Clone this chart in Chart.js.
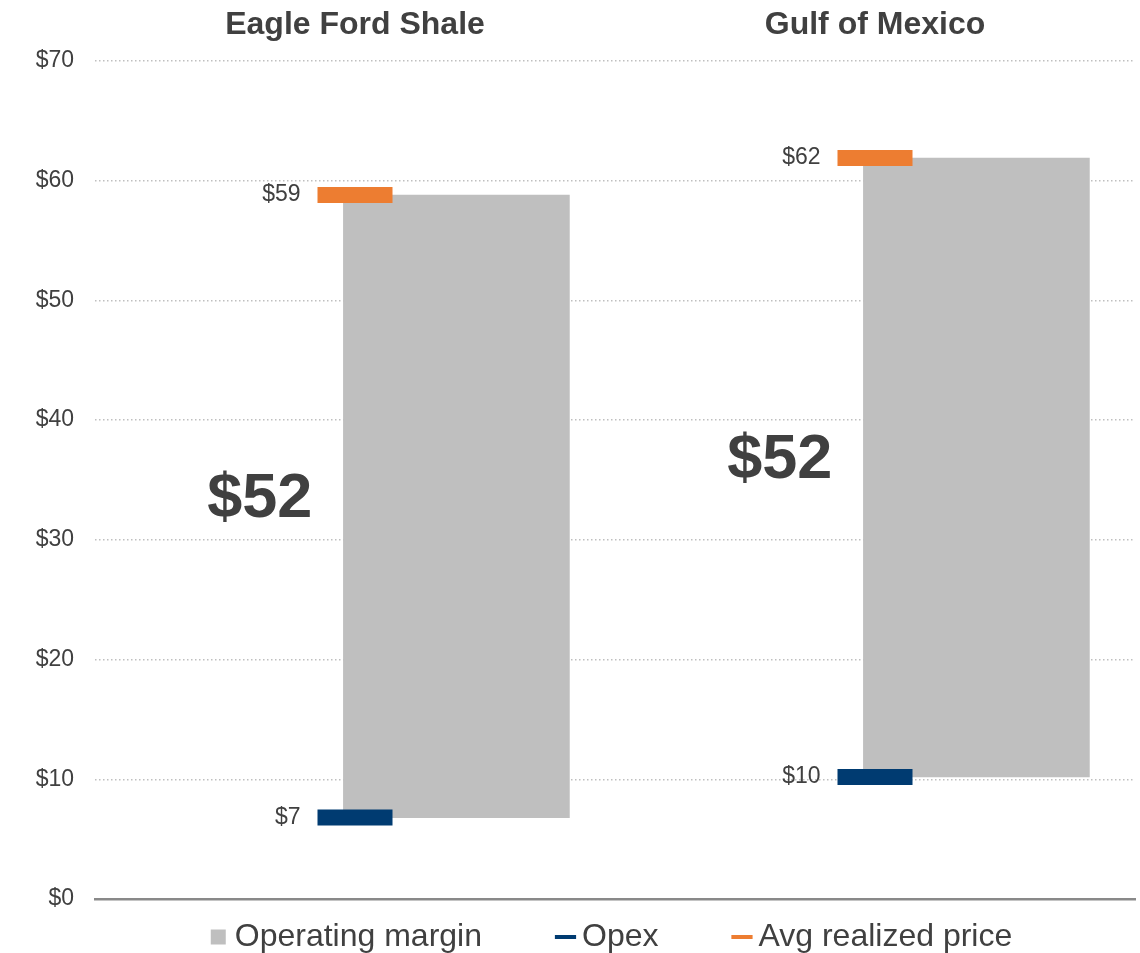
<!DOCTYPE html>
<html>
<head>
<meta charset="utf-8">
<title>Operating margin</title>
<script src="https://cdn.jsdelivr.net/npm/chart.js@4.4.1/dist/chart.umd.min.js"></script>
<style>
  html, body { margin: 0; padding: 0; background: #fff; }
  #wrap { width: 1140px; height: 953px; }
</style>
</head>
<body>
<div id="wrap"><canvas id="marginChart" width="1140" height="953"></canvas></div>
<script>
// data
const categories = ['Eagle Ford Shale', 'Gulf of Mexico'];
const opex = [6.8, 10.2];
const avgPrice = [58.8, 61.9];
const yTicks = [0, 10, 20, 30, 40, 50, 60, 70];

const GREY = '#bfbfbf';
const NAVY = '#003b71';
const ORANGE = '#ed7d31';
const TEXT = '#404040';
const FONT = '"Liberation Sans", Arial, sans-serif';

Chart.defaults.font.family = FONT;
Chart.defaults.color = TEXT;

// grey bar sits to the right of the price / opex markers
const BAR_SHIFT = 0.195;

// labels next to markers + big margin figure
const valueLabels = {
  id: 'valueLabels',
  afterDatasetsDraw(chart) {
    const ctx = chart.ctx;
    const bars = chart.getDatasetMeta(0).data;
    const opexPts = chart.getDatasetMeta(1).data;
    const pricePts = chart.getDatasetMeta(2).data;
    ctx.save();
    ctx.fillStyle = TEXT;
    ctx.textAlign = 'right';
    ctx.textBaseline = 'middle';
    categories.forEach((c, i) => {
      const half = opexPts[i].options.radius;
      ctx.font = '23px ' + FONT;
      ctx.fillText('$' + Math.round(opex[i]), opexPts[i].x - half - 17, opexPts[i].y);
      ctx.fillText('$' + Math.round(avgPrice[i]), pricePts[i].x - half - 17, pricePts[i].y);

      const bar = bars[i];
      ctx.font = 'bold 63px ' + FONT;
      ctx.fillText('$' + Math.round(avgPrice[i] - opex[i]), bar.x - bar.width / 2 - 31, (bar.y + bar.base) / 2 - 7);
    });
    ctx.restore();
  }
};

const ctx = document.getElementById('marginChart').getContext('2d');

new Chart(ctx, {
  type: 'bar',
  data: {
    datasets: [
      {
        label: 'Operating margin',
        data: categories.map((c, i) => ({ x: i + 0.5 + BAR_SHIFT, y: [opex[i], avgPrice[i]] })),
        backgroundColor: GREY,
        borderWidth: 0,
        barThickness: 226,
        pointStyle: 'rect',
        order: 3
      },
      {
        type: 'line',
        label: 'Opex',
        data: categories.map((c, i) => ({ x: i + 0.5, y: opex[i] })),
        showLine: false,
        pointStyle: 'line',
        pointRadius: 37.5,
        pointHoverRadius: 37.5,
        pointBorderWidth: 16,
        pointHoverBorderWidth: 16,
        borderColor: NAVY,
        backgroundColor: NAVY,
        order: 1
      },
      {
        type: 'line',
        label: 'Avg realized price',
        data: categories.map((c, i) => ({ x: i + 0.5, y: avgPrice[i] })),
        showLine: false,
        pointStyle: 'line',
        pointRadius: 37.5,
        pointHoverRadius: 37.5,
        pointBorderWidth: 16,
        pointHoverBorderWidth: 16,
        borderColor: ORANGE,
        backgroundColor: ORANGE,
        order: 2
      }
    ]
  },
  options: {
    responsive: false,
    animation: false,
    layout: {
      autoPadding: false, // big marker radius would otherwise shrink the plot
      padding: { top: 0, left: 0, right: 5, bottom: -10 }
    },
    scales: {
      x: {
        type: 'linear',
        min: 0,
        max: categories.length,
        offset: false,
        ticks: { display: false },
        grid: { display: false, drawTicks: false },
        border: { display: true, color: '#898989', width: 2.5 },
        afterFit: s => { s.height = 0; }
      },
      x2: {
        type: 'category',
        position: 'top',
        labels: categories,
        offset: true,
        grid: { display: false, drawTicks: false },
        border: { display: false },
        ticks: { padding: 17, color: TEXT, font: { size: 32, weight: 'bold' } },
        afterFit: s => { s.height = 61; s.paddingLeft = 0; s.paddingRight = 0; }
      },
      y: {
        min: yTicks[0],
        max: yTicks[yTicks.length - 1],
        afterBuildTicks: s => { s.ticks = yTicks.map(v => ({ value: v })); },
        ticks: {
          padding: 21,
          color: TEXT,
          font: { size: 23 },
          callback: v => '$' + v
        },
        grid: {
          drawTicks: false,
          lineWidth: 1.5,
          color: c => (c.tick && c.tick.value === 0) ? 'rgba(0,0,0,0)' : GREY
        },
        border: { display: false, dash: [1.5, 2.5] },
        afterFit: s => { s.width = 95; }
      }
    },
    plugins: {
      tooltip: { enabled: false },
      legend: {
        position: 'bottom',
        fullSize: false,
        // empty title with negative padding pulls the legend row up
        title: { display: true, text: '', padding: { top: -71, bottom: 0 }, font: { size: 10, lineHeight: 1 } },
        labels: {
          usePointStyle: true,
          boxWidth: 1,
          boxHeight: 15,
          padding: 83,
          color: TEXT,
          font: { size: 32 },
          sort: (a, b) => a.datasetIndex - b.datasetIndex,
          generateLabels: chart => {
            const items = Chart.defaults.plugins.legend.labels.generateLabels(chart);
            items.forEach(it => { if (it.pointStyle === 'line') it.lineWidth = 4; });
            return items;
          }
        }
      }
    }
  },
  plugins: [valueLabels]
});
</script>
</body>
</html>
